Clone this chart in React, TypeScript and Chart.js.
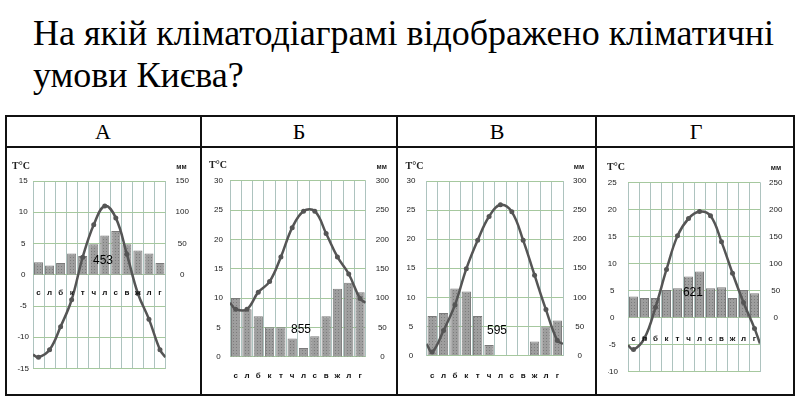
import React, { useEffect, useRef } from "react";
import { Chart, registerables } from "chart.js";
Chart.register(...registerables);

// ---------- data ----------
const months = ["с", "л", "б", "к", "т", "ч", "л", "с", "в", "ж", "л", "г"];
const panelLetters = ["А", "Б", "В", "Г"];
const questionText = "На якій кліматодіаграмі відображено кліматичні умови Києва?";

const tempA = [-13.2, -12.0, -8.3, -4.0, 2.8, 8.0, 11.0, 9.1, 3.3, -3.0, -7.1, -12.0];
const edgeA = [-12.8, -13.2]; // where the curve meets the left / right plot edge
const precA = [20, 15, 19, 34, 30, 49, 63, 70, 49, 39, 34, 19];
const totalA = "453";

const tempB = [8.1, 8.1, 11.0, 12.8, 17.0, 22.0, 24.8, 24.8, 21.0, 17.0, 14.1, 9.9];
const edgeB = [9.2, 9.2];
const precB = [100, 81, 69, 50, 50, 31, 15, 35, 69, 116, 126, 110];
const totalB = "855";

const tempV = [0.6, 4.3, 8.7, 14.9, 19.8, 23.9, 25.9, 24.7, 19.8, 13.8, 7.9, 2.6];
const edgeV = [2.0, 2.0];
const precV = [68, 73, 115, 110, 68, 18, 0, 0, 0, 24, 50, 60];
const totalV = "595";

const tempG = [-5.9, -3.8, 1.9, 8.9, 15.1, 18.3, 19.6, 18.8, 14.0, 8.2, 2.8, -2.0];
const edgeG = [-5.1, -4.8];
const precG = [39, 36, 36, 51, 54, 76, 85, 54, 56, 36, 51, 45];
const totalG = "621";

const tempRangeA = [-15, 15];
const tempRangeB = [0, 30];
const tempRangeV = [0, 30];
const tempRangeG = [-10, 25];

// ---------- layout / style ----------
const SERIF = '"Liberation Serif", "Times New Roman", serif';

const panels = [
  { temp: tempA, edge: edgeA, prec: precA, total: totalA, range: tempRangeA, x: 6, y: 148, w: 195, h: 247,
    pad: { left: 7, right: 5.5, top: 33, bottom: 26.5 }, lPad: 4, rPad: 10, monthOff: 18.5, totalAt: [5.84, 2.3] },
  { temp: tempB, edge: edgeB, prec: precB, total: totalB, range: tempRangeB, x: 202, y: 148, w: 195, h: 247,
    pad: { left: 8, right: 1.3, top: 32.7, bottom: 38.3 }, lPad: 7, rPad: 10, monthOff: 19, totalAt: [5.78, 4.55] },
  { temp: tempV, edge: edgeV, prec: precV, total: totalV, range: tempRangeV, x: 398, y: 148, w: 198, h: 247,
    pad: { left: 8.5, right: 3, top: 33, bottom: 39.5 }, lPad: 11, rPad: 10, monthOff: 20, totalAt: [5.7, 4.2] },
  { temp: tempG, edge: edgeG, prec: precG, total: totalG, range: tempRangeG, x: 597, y: 148, w: 198, h: 247,
    pad: { left: 11, right: 5, top: 34.3, bottom: 23.3 }, lPad: 10, rPad: 9, monthOff: 21.5, totalAt: [5.4, 4.55] },
];

const LEFT_W = 20;
const RIGHT_W = 30;
const H_GRID = "#a6c89e";
const V_GRID = "#adc3bf";
const LINE_COLOR = "#555555";

// column boundaries for the vertical grid lines (month i sits at x = i)
const columnEdges = months.map((_, i) => i - 0.5).concat([months.length - 0.5]);

function makePattern(): CanvasPattern | string {
  const c = document.createElement("canvas");
  c.width = 3;
  c.height = 3;
  const g = c.getContext("2d");
  if (!g) return "#9c9c9c";
  g.fillStyle = "#9e9e9e";
  g.fillRect(0, 0, 3, 3);
  g.fillStyle = "#7c7c7c";
  g.fillRect(1, 1, 1, 1);
  const p = g.createPattern(c, "repeat");
  return p || "#9c9c9c";
}

function extrasPlugin(p: any) {
  return {
    id: "extras",
    afterDatasetsDraw(chart: any) {
      const ctx = chart.ctx as CanvasRenderingContext2D;
      const xs = chart.scales.x;
      const ys = chart.scales.y;
      const area = chart.chartArea;
      ctx.save();
      ctx.textAlign = "center";
      ctx.textBaseline = "middle";
      ctx.fillStyle = "#111";
      ctx.font = 'bold 8px "Liberation Sans"';
      const y0 = ys.getPixelForValue(0) + p.monthOff;
      months.forEach((m, i) => ctx.fillText(m, xs.getPixelForValue(i), y0));
      ctx.font = '12px "Liberation Sans"';
      ctx.fillStyle = "#000";
      ctx.fillText(p.total, xs.getPixelForValue(p.totalAt[0]), ys.getPixelForValue(p.totalAt[1]));
      ctx.font = "bold 10px " + SERIF;
      ctx.fillStyle = "#222";
      ctx.fillText("T°C", area.left - 12, area.top - 15);
      ctx.font = 'bold 7px "Liberation Sans"';
      ctx.fillText("мм", area.right + 16, area.top - 14);
      ctx.restore();
    },
  };
}

function Panel({ p }: { p: any }) {
  const ref = useRef<HTMLCanvasElement | null>(null);
  useEffect(() => {
    if (!ref.current) return;
    const pattern = makePattern();
    const linePts = [
      { x: -0.5, y: p.edge[0] },
      ...p.temp.map((v: number, i: number) => ({ x: i, y: v })),
      { x: months.length - 0.5, y: p.edge[1] },
    ];
    const barPts = p.prec.map((v: number, i: number) => ({ x: i, y: v }));
    const n = linePts.length;
    const chart = new Chart(ref.current, {
      type: "bar",
      data: {
        datasets: [
          {
            type: "line",
            data: linePts,
            yAxisID: "y",
            borderColor: LINE_COLOR,
            borderWidth: 2.5,
            pointRadius: (c: any) => (c.dataIndex === 0 || c.dataIndex === n - 1 ? 0 : 2.5),
            pointBackgroundColor: LINE_COLOR,
            pointBorderWidth: 0,
            tension: 0.4,
            order: 0,
          } as any,
          {
            type: "bar",
            data: barPts,
            yAxisID: "y2",
            backgroundColor: pattern as any,
            borderColor: "#7a7a7a",
            borderWidth: 1,
            barPercentage: 0.82,
            categoryPercentage: 1,
            order: 1,
          } as any,
        ],
      },
      options: {
        responsive: false,
        animation: false,
        devicePixelRatio: 1,
        layout: { padding: p.pad },
        plugins: { legend: { display: false }, tooltip: { enabled: false } },
        scales: {
          x: {
            type: "linear",
            min: -0.5,
            max: months.length - 0.5,
            offset: false,
            grid: { offset: false, color: V_GRID, drawTicks: false },
            border: { display: false },
            ticks: { display: false },
            afterBuildTicks: (s: any) => { s.ticks = columnEdges.map((v) => ({ value: v })); },
            afterFit: (s: any) => { s.height = 0; },
          },
          y: {
            position: "left",
            min: p.range[0],
            max: p.range[1],
            grid: { color: H_GRID, drawTicks: false },
            border: { display: false },
            ticks: {
              stepSize: 5,
              crossAlign: "center",
              padding: p.lPad,
              color: "#1a1a1a",
              font: { family: "Liberation Sans", size: 8 },
            },
            afterFit: (s: any) => { s.width = LEFT_W; },
          },
          y2: {
            position: "right",
            min: p.range[0] * 10,
            max: p.range[1] * 10,
            grid: { display: false, drawTicks: false },
            border: { display: false },
            ticks: {
              stepSize: 50,
              crossAlign: "center",
              padding: p.rPad,
              color: "#1a1a1a",
              font: { family: "Liberation Sans", size: 8 },
              callback: (v: any) => (Number(v) >= 0 ? String(v) : ""),
            },
            afterFit: (s: any) => { s.width = RIGHT_W; },
          },
        },
      } as any,
      plugins: [extrasPlugin(p)],
    });
    return () => chart.destroy();
  }, []);
  return (
    <canvas
      ref={ref}
      width={p.w}
      height={p.h}
      style={{ position: "absolute", left: p.x, top: p.y, width: p.w, height: p.h }}
    />
  );
}

const lineStyle = (l: number, t: number, w: number, h: number): React.CSSProperties => ({
  position: "absolute", left: l, top: t, width: w, height: h, background: "#111", zIndex: 2,
});

export default function App() {
  const headerCenters = [103, 299, 497, 696];
  return (
    <div style={{ position: "fixed", left: 0, top: 0, width: 800, height: 400, background: "#fff", overflow: "hidden" }}>
      <div
        style={{
          position: "absolute", left: 33, top: 12, width: 765,
          fontFamily: SERIF, fontSize: 36, lineHeight: "42px", color: "#000",
        }}
      >
        {questionText}
      </div>
      {panels.map((p, i) => <Panel key={i} p={p} />)}
      <div style={lineStyle(5, 115, 790, 2)} />
      <div style={lineStyle(5, 146, 790, 2)} />
      <div style={lineStyle(5, 394, 790, 2)} />
      <div style={lineStyle(5, 115, 2, 281)} />
      <div style={lineStyle(200, 115, 2, 281)} />
      <div style={lineStyle(396, 115, 2, 281)} />
      <div style={lineStyle(595, 115, 2, 281)} />
      <div style={lineStyle(793, 115, 2, 281)} />
      {panelLetters.map((t, i) => (
        <div
          key={t}
          style={{
            position: "absolute", left: headerCenters[i] - 20, top: 118, width: 40, height: 28,
            textAlign: "center", lineHeight: "28px", fontFamily: SERIF, fontSize: 22, color: "#000",
          }}
        >
          {t}
        </div>
      ))}
    </div>
  );
}
